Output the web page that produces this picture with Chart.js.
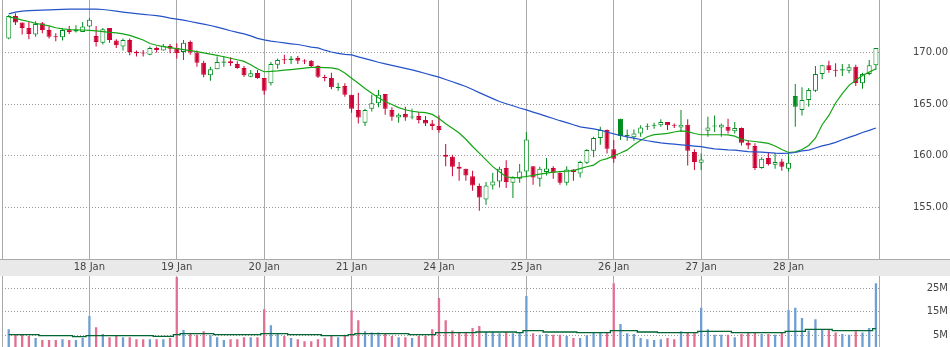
<!DOCTYPE html>
<html>
<head>
<meta charset="utf-8">
<script src="https://cdn.jsdelivr.net/npm/chart.js@4.4.1/dist/chart.umd.min.js"></script>
<style>
  html, body { margin: 0; padding: 0; background: #fff; }
  #wrap { position: relative; width: 950px; height: 347px; overflow: hidden; }
  canvas { position: absolute; left: 0; display: block; }
  #price { top: 0; }
  #volume { top: 276px; }
</style>
</head>
<body>
<div id="wrap">
  <canvas id="price" width="950" height="276"></canvas>
  <canvas id="volume" width="950" height="71"></canvas>
</div>
<script>
// half-hour bars, 13 per session; the first session is partly cut off
const dayLabels = ['18 Jan', '19 Jan', '20 Jan', '21 Jan', '24 Jan', '25 Jan', '26 Jan', '27 Jan', '28 Jan'];
const priceTicks = [155, 160, 165, 170];
const volumeTicks = [5, 10, 15, 20, 25];

const opens = [
  171.32, 173.51, 172.87, 172.35, 171.71, 172.80, 172.16, 171.50, 171.45, 172.20, 172.16, 171.97,
  172.48, 171.58, 170.93, 172.35, 171.13, 170.55, 171.19, 170.06, 169.93, 169.77, 170.42, 170.16, 170.61,
  170.42, 170.03, 171.00, 169.97, 169.00, 167.77, 168.35, 169.00, 169.13, 168.87, 168.48, 167.64, 168.00,
  167.52, 167.00, 168.80, 169.28, 169.39, 169.45, 169.16, 169.19, 168.67, 167.58, 167.52, 166.55, 166.74,
  165.90, 164.42, 163.20, 164.55, 165.07, 165.97, 164.42, 163.71, 164.03, 163.70, 163.84, 163.45, 163.13,
  162.87, 160.10, 159.91, 158.94, 158.75, 158.03, 157.07, 155.78, 157.13, 157.52, 158.81, 157.40, 157.78,
  158.49, 159.00, 157.78, 158.43, 158.81, 158.36, 157.40, 158.68, 158.30, 159.33, 160.49, 161.71, 162.49,
  160.62, 163.58, 161.90, 161.78, 162.16, 162.80, 162.90, 162.94, 163.26, 162.97, 162.74, 163.00, 160.36,
  159.33, 162.42, 162.84, 162.74, 162.81, 162.36, 162.68, 161.26, 160.94, 158.81, 159.78, 159.14, 159.46,
  158.75, 165.77, 164.42, 165.39, 166.29, 167.90, 168.74, 168.30, 168.35, 168.22, 168.61, 167.00, 167.90,
  168.74
];
const highs = [
  173.61, 173.77, 172.87, 172.93, 173.00, 172.93, 172.48, 171.84, 172.35, 172.54, 172.61, 172.93,
  173.32, 172.54, 172.35, 172.35, 171.26, 171.32, 171.32, 170.16, 170.22, 170.55, 170.55, 170.80, 170.80,
  170.87, 171.19, 171.13, 170.16, 169.19, 168.61, 169.58, 169.64, 169.51, 169.13, 168.67, 168.29, 168.29,
  167.52, 169.06, 169.39, 169.77, 169.64, 169.64, 169.32, 169.26, 168.74, 167.84, 168.03, 167.06, 167.00,
  165.90, 166.10, 164.55, 165.90, 166.35, 165.97, 164.68, 164.10, 164.74, 164.55, 164.23, 163.84, 163.45,
  163.90, 161.13, 160.10, 159.39, 158.75, 158.55, 157.33, 157.46, 158.36, 158.94, 159.58, 158.03, 159.20,
  162.29, 159.00, 158.94, 159.78, 159.00, 158.40, 159.00, 158.70, 159.52, 160.62, 161.84, 162.81, 162.55,
  161.52, 163.58, 162.55, 162.55, 162.94, 163.13, 163.20, 163.52, 163.26, 163.13, 164.42, 163.52, 160.62,
  160.23, 163.78, 163.90, 163.13, 163.58, 163.26, 162.74, 161.52, 161.20, 159.85, 160.36, 160.30, 159.72,
  160.17, 166.93, 166.61, 166.55, 168.67, 168.80, 169.19, 168.93, 168.87, 168.87, 168.80, 168.03, 169.26,
  170.42
];
const lows = [
  171.26, 172.64, 171.71, 171.26, 171.51, 171.84, 171.32, 171.06, 171.13, 171.77, 171.90, 171.97,
  172.42, 170.55, 170.74, 170.93, 170.42, 170.16, 169.71, 169.58, 169.58, 169.71, 169.97, 170.16, 169.90,
  169.39, 169.26, 169.77, 168.61, 167.58, 167.26, 168.35, 168.61, 168.67, 168.42, 167.64, 167.58, 167.45,
  165.90, 166.80, 168.42, 168.87, 168.87, 168.87, 168.87, 168.55, 167.52, 167.20, 166.42, 166.29, 165.71,
  164.16, 163.13, 162.87, 164.29, 164.68, 163.97, 163.39, 163.20, 163.39, 163.52, 163.13, 162.87, 162.49,
  162.23, 159.00, 158.03, 157.59, 157.59, 156.62, 154.68, 155.26, 156.75, 156.94, 156.88, 155.91, 157.40,
  157.91, 157.20, 157.00, 158.10, 157.78, 157.20, 157.13, 157.59, 157.91, 159.20, 159.85, 161.07, 160.23,
  159.33, 161.52, 161.45, 161.45, 161.84, 162.49, 162.62, 162.81, 162.49, 162.68, 162.29, 159.07, 158.62,
  158.62, 161.84, 162.29, 161.84, 162.16, 162.16, 161.00, 160.62, 158.62, 158.75, 159.07, 158.75, 158.55,
  158.49, 162.81, 163.90, 164.74, 166.16, 167.39, 168.03, 167.64, 167.71, 167.97, 166.74, 166.48, 167.77,
  168.29
];
const closes = [
  173.51, 172.87, 172.35, 171.77, 172.74, 172.16, 171.51, 171.45, 172.16, 171.97, 172.00, 172.48,
  173.13, 171.00, 172.22, 171.19, 170.67, 171.19, 170.03, 169.90, 169.88, 170.42, 170.22, 170.61, 170.35,
  169.90, 170.93, 169.97, 169.00, 167.84, 168.35, 169.06, 169.10, 168.93, 168.48, 167.77, 167.97, 167.52,
  166.29, 168.87, 169.26, 169.22, 169.26, 169.19, 169.10, 168.67, 167.64, 167.52, 166.61, 166.63, 165.90,
  164.55, 163.71, 164.42, 165.07, 165.90, 164.55, 163.78, 163.97, 163.71, 163.75, 163.45, 163.13, 162.87,
  162.49, 159.90, 158.94, 158.75, 158.10, 157.13, 155.97, 157.13, 157.52, 158.75, 157.46, 157.90, 158.49,
  161.58, 157.91, 158.75, 158.78, 158.36, 157.40, 158.68, 158.43, 159.39, 160.55, 161.71, 162.49, 160.68,
  159.72, 161.90, 161.95, 162.16, 162.74, 162.83, 162.94, 163.26, 162.94, 162.90, 163.00, 160.49, 159.39,
  159.65, 162.74, 162.87, 163.00, 162.42, 162.68, 161.26, 161.00, 158.81, 159.72, 159.20, 159.39, 158.94,
  159.33, 164.74, 165.39, 166.35, 167.90, 168.74, 168.29, 168.22, 168.25, 168.55, 167.00, 167.90, 168.74,
  170.42
];

// short and long moving averages as plotted
const maFast = [
  173.42, 173.30, 173.10, 172.97, 172.80, 172.68, 172.55, 172.37, 172.26, 172.20, 172.17, 172.15,
  172.12, 172.06, 171.99, 171.93, 171.87, 171.78, 171.63, 171.42, 171.18, 170.85, 170.68, 170.55, 170.45,
  170.36, 170.26, 170.16, 170.06, 169.95, 169.82, 169.70, 169.57, 169.42, 169.28, 169.12, 168.80, 168.40,
  168.12, 168.15, 168.20, 168.27, 168.33, 168.40, 168.47, 168.54, 168.55, 168.52, 168.49, 168.38, 168.00,
  167.50, 167.00, 166.50, 166.05, 165.60, 165.25, 164.95, 164.65, 164.45, 164.30, 164.22, 164.17, 164.00,
  163.60, 163.10, 162.65, 162.20, 161.60, 160.90, 160.25, 159.60, 158.95, 158.45, 157.95, 157.90, 157.91,
  158.00, 158.10, 158.22, 158.33, 158.43, 158.47, 158.52, 158.57, 158.76, 158.94, 159.10, 159.54, 159.73,
  160.00, 160.27, 160.57, 161.06, 161.50, 161.84, 162.04, 162.10, 162.17, 162.30, 162.40, 162.33, 162.15,
  162.03, 162.03, 162.03, 162.03, 162.02, 161.90, 161.60, 161.45, 161.38, 161.30, 161.20, 160.95, 160.60,
  160.32, 160.38, 160.60, 161.00, 161.70, 163.00, 163.90, 165.10, 166.00, 166.80, 167.30, 167.75, 168.08,
  168.40
];
const maSlow = [
  173.71, 173.88, 173.98, 174.02, 174.05, 174.07, 174.10, 174.12, 174.14, 174.16, 174.16, 174.16,
  174.16, 174.16, 174.13, 174.06, 173.97, 173.88, 173.80, 173.73, 173.67, 173.60, 173.54, 173.44, 173.30,
  173.20, 173.10, 172.97, 172.84, 172.72, 172.59, 172.43, 172.26, 172.08, 171.93, 171.77, 171.58, 171.34,
  171.20, 171.08, 170.99, 170.90, 170.82, 170.75, 170.63, 170.50, 170.43, 170.20, 170.03, 169.90, 169.80,
  169.74, 169.56, 169.39, 169.22, 169.04, 168.88, 168.73, 168.59, 168.44, 168.30, 168.13, 167.95, 167.77,
  167.60, 167.37, 167.15, 166.92, 166.70, 166.40, 166.10, 165.81, 165.52, 165.24, 165.03, 164.83, 164.62,
  164.43, 164.22, 164.02, 163.81, 163.60, 163.39, 163.20, 163.00, 162.80, 162.70, 162.60, 162.48, 162.30,
  162.12, 161.96, 161.82, 161.70, 161.57, 161.45, 161.35, 161.25, 161.18, 161.12, 161.06, 161.00, 160.94,
  160.88, 160.76, 160.67, 160.62, 160.57, 160.54, 160.47, 160.41, 160.38, 160.36, 160.31, 160.26, 160.23,
  160.25, 160.32, 160.48, 160.55, 160.75, 160.95, 161.10, 161.30, 161.55, 161.78, 162.00, 162.25, 162.45,
  162.68
];

// volume in millions of shares
const volumes = [
  7.56, 5.28, 5.28, 4.70, 3.86, 3.00, 3.00, 3.00, 3.30, 3.00, 3.00, 3.86,
  13.2, 8.40, 5.57, 4.15, 4.70, 4.15, 4.15, 3.30, 3.30, 3.30, 3.30, 3.30, 3.86,
  29.9, 7.28, 5.57, 5.28, 6.70, 5.00, 4.15, 3.00, 3.30, 3.30, 4.15, 4.15, 4.15,
  16.1, 9.27, 5.57, 4.70, 3.86, 3.30, 2.44, 2.44, 3.30, 3.86, 4.70, 4.15, 5.28,
  15.7, 11.4, 6.70, 6.14, 6.14, 5.57, 4.70, 4.15, 4.15, 3.86, 4.70, 4.70, 7.56,
  20.9, 11.4, 7.00, 6.14, 6.14, 8.13, 9.00, 6.40, 6.40, 5.85, 6.40, 5.85, 6.40,
  21.8, 5.85, 5.28, 5.57, 5.28, 5.28, 4.70, 3.86, 3.86, 5.00, 6.14, 6.14, 6.14,
  27.2, 9.84, 5.85, 5.57, 3.86, 3.30, 3.00, 3.30, 3.86, 3.30, 6.70, 6.14, 6.14,
  16.7, 7.56, 5.28, 5.28, 5.28, 4.15, 5.57, 6.14, 6.14, 5.57, 5.57, 5.28, 6.14,
  15.8, 16.7, 12.4, 7.00, 11.8, 7.56, 7.28, 6.14, 5.57, 5.28, 6.70, 6.14, 8.13,
  27.2
];
const volumeAvg = [
  5.30, 5.30, 5.30, 5.30, 5.30, 4.85, 4.85, 4.85, 4.85, 4.85, 4.40, 4.40,
  4.85, 4.85, 4.85, 4.85, 4.85, 4.85, 4.85, 4.85, 4.85, 4.85, 4.57, 4.57, 4.57,
  5.28, 5.70, 5.70, 5.70, 5.70, 5.70, 5.28, 5.28, 5.28, 5.28, 5.28, 5.28, 5.28,
  5.70, 5.70, 5.70, 5.70, 5.28, 5.28, 5.28, 5.28, 5.28, 4.85, 4.85, 4.85, 4.85,
  5.28, 5.70, 5.70, 5.70, 5.70, 5.70, 5.70, 5.70, 5.70, 5.28, 5.28, 5.28, 5.28,
  6.10, 6.10, 6.10, 6.10, 6.10, 6.10, 6.40, 6.40, 6.40, 6.40, 6.40, 6.40, 6.10,
  7.00, 7.00, 7.00, 6.40, 6.40, 6.40, 6.40, 6.40, 6.10, 6.10, 6.10, 6.10, 6.10,
  7.00, 7.00, 7.00, 7.00, 6.40, 6.40, 6.40, 6.10, 6.10, 6.10, 6.10, 6.10, 6.10,
  6.70, 6.70, 6.70, 6.70, 6.70, 6.10, 6.10, 6.10, 6.10, 6.10, 6.10, 6.10, 6.10,
  6.70, 6.70, 6.70, 7.56, 7.56, 7.56, 7.56, 7.00, 7.00, 7.00, 7.00, 7.00, 7.00,
  7.85
];

const BARS_PER_DAY = 13;
const UP = '#008c1e', DOWN = '#cc0033';
const VOL_UP = '#6f9fd2', VOL_DOWN = '#e26f92';
const GRID = '#aaaaaa', DOTS = '#999999';
const AXIS_W = 68.7;

Chart.defaults.font.family = "'DejaVu Sans', sans-serif";
Chart.defaults.font.size = 10;
Chart.defaults.color = '#444';

const slot = i => i + 1;
const xMax = closes.length + 0.5;
const dayStarts = dayLabels.map((_, k) => k * BARS_PER_DAY).concat([dayLabels.length * BARS_PER_DAY]);
const xTickValues = dayStarts.concat([xMax]);

// colour follows close vs previous close, fill follows close vs open
const rising = closes.map((c, i) => c >= (i ? closes[i - 1] : opens[0]));
const candleColor = rising.map(r => r ? UP : DOWN);
const bodyFill = closes.map((c, i) => c > opens[i] ? '#ffffff' : candleColor[i]);

// the right-hand value axis keeps a fixed width and no label overhang
function fixedWidth(s) {
  s.width = AXIS_W;
  s.paddingTop = 0;
  s.paddingBottom = 0;
}

function dayAxis(showLabels) {
  return {
    type: 'linear',
    min: 0,
    max: xMax,
    offset: false,
    afterBuildTicks: s => { s.ticks = xTickValues.map(v => ({ value: v })); },
    afterFit: s => {
      s.height = showLabels ? 16.7 : 0;
      s.paddingLeft = 0;
      s.paddingRight = 0;
    },
    grid: { color: GRID, lineWidth: 1, drawTicks: false, offset: false },
    border: { display: false },
    ticks: {
      display: showLabels,
      autoSkip: false,
      maxRotation: 0,
      padding: 2,
      color: '#444',
      callback: v => {
        const k = v / BARS_PER_DAY;
        return Number.isInteger(k) && k >= 1 ? (dayLabels[k - 1] || '') : '';
      }
    }
  };
}

const bandPlugin = {
  id: 'dateBand',
  beforeDraw(chart) {
    const { ctx, chartArea, width, height } = chart;
    ctx.save();
    ctx.fillStyle = '#e9e9e9';
    ctx.fillRect(0, chartArea.bottom, width, height - chartArea.bottom);
    ctx.strokeStyle = GRID;
    ctx.lineWidth = 1;
    ctx.beginPath();
    ctx.moveTo(0, Math.round(chartArea.bottom) + 0.5);
    ctx.lineTo(width, Math.round(chartArea.bottom) + 0.5);
    ctx.stroke();
    ctx.restore();
  }
};

new Chart(document.getElementById('price'), {
  type: 'bar',
  data: {
    datasets: [
      {
        type: 'line',
        data: maSlow.map((v, i) => ({ x: slot(i), y: v })),
        borderColor: '#2452c8',
        borderWidth: 1.2,
        pointRadius: 0,
        tension: 0,
        order: 0
      },
      {
        type: 'line',
        data: maFast.map((v, i) => ({ x: slot(i), y: v })),
        borderColor: '#14a514',
        borderWidth: 1.2,
        pointRadius: 0,
        tension: 0,
        order: 0
      },
      {
        data: opens.map((o, i) => ({ x: slot(i), y: [o, closes[i]] })),
        backgroundColor: bodyFill,
        borderColor: candleColor,
        borderWidth: 1,
        borderSkipped: false,
        barThickness: 5,
        minBarLength: 1,
        inflateAmount: 0,
        grouped: false,
        order: 1
      },
      {
        data: lows.map((l, i) => ({ x: slot(i), y: [l, highs[i]] })),
        backgroundColor: candleColor,
        borderWidth: 0,
        barThickness: 1,
        inflateAmount: 0,
        grouped: false,
        order: 2
      }
    ]
  },
  options: {
    responsive: false,
    animation: false,
    devicePixelRatio: 1,
    events: [],
    layout: { padding: { left: 2, right: 2, top: 0, bottom: 0 } },
    plugins: { legend: { display: false }, tooltip: { enabled: false } },
    scales: {
      x: dayAxis(true),
      y: {
        position: 'right',
        min: 150,
        max: 175.05,
        afterBuildTicks: s => { s.ticks = priceTicks.map(v => ({ value: v })); },
        afterFit: fixedWidth,
        grid: { color: DOTS, lineWidth: 1, drawTicks: false },
        border: { display: false, dash: [1, 2] },
        ticks: { crossAlign: 'far', color: '#444', callback: v => v.toFixed(2) }
      }
    }
  },
  plugins: [bandPlugin]
});

new Chart(document.getElementById('volume'), {
  type: 'bar',
  data: {
    datasets: [
      {
        type: 'line',
        data: volumeAvg.map((v, i) => ({ x: slot(i), y: v })),
        borderColor: '#006633',
        borderWidth: 1.3,
        pointRadius: 0,
        stepped: 'middle',
        order: 0
      },
      {
        data: volumes.map((v, i) => ({ x: slot(i), y: v })),
        backgroundColor: rising.map(r => r ? VOL_UP : VOL_DOWN),
        borderWidth: 0,
        barThickness: 2.3,
        inflateAmount: 0,
        grouped: false,
        order: 1
      }
    ]
  },
  options: {
    responsive: false,
    animation: false,
    devicePixelRatio: 1,
    events: [],
    layout: { padding: { left: 2, right: 2, top: 0, bottom: 0 } },
    plugins: { legend: { display: false }, tooltip: { enabled: false } },
    scales: {
      x: dayAxis(false),
      y: {
        position: 'right',
        min: 0,
        max: 30.3,
        afterBuildTicks: s => { s.ticks = volumeTicks.map(v => ({ value: v })); },
        afterFit: fixedWidth,
        grid: { color: DOTS, lineWidth: 1, drawTicks: false },
        border: { display: false, dash: [1, 2] },
        ticks: { crossAlign: 'far', color: '#444', callback: v => (v % 10 === 5 ? v + 'M' : '') }
      }
    }
  }
});
</script>
</body>
</html>
